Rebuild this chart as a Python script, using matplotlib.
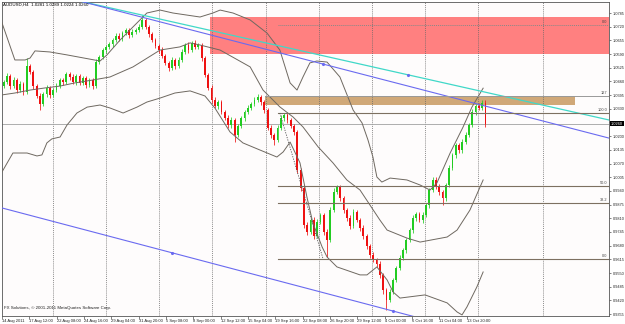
import numpy as np
import matplotlib.pyplot as plt
from matplotlib.patches import Rectangle
import matplotlib.transforms as mtransforms

plt.rcParams['font.family'] = ['Liberation Sans', 'DejaVu Sans']

# AUDUSD H4 (two bars per candle), closes
closes = [
    1.0457, 1.0486, 1.0438, 1.0467, 1.0419, 1.0448, 1.0410, 1.0533, 1.0505, 1.0438,
    1.0391, 1.0353, 1.0400, 1.0429, 1.0396, 1.0419, 1.0438, 1.0467, 1.0457, 1.0495,
    1.0481, 1.0457, 1.0486, 1.0453, 1.0476, 1.0443, 1.0467, 1.0438, 1.0552, 1.0576,
    1.0609, 1.0624, 1.0638, 1.0657, 1.0676, 1.0662, 1.0690, 1.0704, 1.0681, 1.0695,
    1.0704, 1.0719, 1.0752, 1.0719, 1.0685, 1.0657, 1.0628, 1.0609, 1.0581, 1.0548,
    1.0524, 1.0562, 1.0533, 1.0562, 1.0600, 1.0633, 1.0609, 1.0643, 1.0624, 1.0633,
    1.0571, 1.0491, 1.0429, 1.0372, 1.0343, 1.0362, 1.0315, 1.0286, 1.0253, 1.0277,
    1.0206, 1.0248, 1.0286, 1.0315, 1.0334, 1.0353, 1.0372, 1.0386, 1.0362, 1.0324,
    1.0239, 1.0206, 1.0182, 1.0239, 1.0286, 1.0301, 1.0277, 1.0248, 1.0220, 1.0039,
    0.9954, 0.9778, 0.9745, 0.9802, 0.9726, 0.9792, 0.9826, 0.9745, 0.9707, 0.9849,
    0.9935, 0.9958, 0.9906, 0.9849, 0.9811, 0.9773, 0.9840, 0.9802, 0.9764, 0.9726,
    0.9678, 0.9636, 0.9612, 0.9593, 0.9541, 0.9469, 0.9422, 0.9460, 0.9517, 0.9574,
    0.9621, 0.9659, 0.9707, 0.9754, 0.9811, 0.9830, 0.9802, 0.9826, 0.9873, 0.9944,
    0.9992, 0.9963, 0.9935, 0.9906, 0.9968, 1.0049, 1.0110, 1.0158, 1.0134, 1.0172,
    1.0206, 1.0253, 1.0315, 1.0343, 1.0334, 1.0358, 1.0260,
]
first_open = 1.0440
up_pips = [
    10, 14, 8, 12, 10, 15, 9, 38, 12, 10, 8, 14, 10, 12, 9, 11, 13, 10, 8, 12,
    9, 14, 10, 8, 12, 10, 9, 11, 14, 10, 12, 9, 11, 10, 13, 15, 10, 12, 9, 14,
    11, 12, 24, 10, 9, 12, 8, 10, 13, 9, 11, 14, 10, 12, 15, 9, 12, 10, 14, 11,
    9, 10, 8, 12, 14, 10, 9, 11, 13, 15, 10, 12, 9, 11, 14, 10, 12, 13, 9, 10,
    11, 14, 9, 12, 16, 10, 11, 9, 12, 10, 11, 13, 14, 10, 12, 15, 11, 9, 12, 14,
    18, 10, 12, 9, 11, 14, 12, 10, 9, 13, 11, 10, 12, 9, 14, 10, 12, 15, 11, 10,
    13, 12, 9, 11, 14, 12, 10, 16, 11, 9, 14, 12, 10, 11, 9, 13, 12, 10, 11, 14,
    12, 10, 13, 9, 16, 14, 12,
]
dn_pips = [
    12, 9, 14, 10, 12, 9, 13, 10, 11, 14, 12, 28, 10, 12, 14, 9, 11, 10, 13, 9,
    12, 10, 14, 11, 9, 13, 10, 12, 9, 11, 10, 12, 9, 13, 10, 11, 12, 9, 14, 10,
    11, 9, 10, 12, 13, 9, 11, 14, 10, 12, 15, 10, 12, 9, 11, 10, 13, 9, 12, 10,
    14, 12, 10, 13, 11, 15, 12, 10, 14, 12, 33, 11, 10, 12, 9, 11, 10, 12, 14, 13,
    12, 15, 24, 10, 11, 12, 14, 10, 13, 12, 14, 12, 16, 11, 15, 12, 10, 14, 80, 12,
    10, 11, 14, 12, 13, 15, 11, 12, 14, 13, 12, 14, 11, 13, 15, 18, 47, 12, 11, 10,
    12, 11, 13, 10, 12, 14, 11, 13, 10, 12, 11, 14, 13, 33, 12, 10, 11, 13, 12, 14,
    10, 12, 11, 13, 12, 10, 15,
]

# indicator lines (bar index, price)
upper_x = [-0.5, 1.3, 3.4, 6.5, 8.0, 9.5, 14.0, 19.2, 29.2, 31.3, 35.3, 39.2, 43.4, 47.4,
           51.3, 59.5, 63.4, 65.6, 69.5, 74.7, 79.8, 83.7, 86.8, 88.9, 90.7, 92.8, 94.9,
           98.0, 101.9, 105.9, 108.6, 110.4, 111.9, 113.1, 114.6, 117.1, 122.2, 126.2,
           129.2, 131.3, 135.3, 139.2, 141.9, 145.3]
upper_y = [1.0738, 1.0657, 1.0562, 1.0562, 1.0571, 1.0605, 1.0600, 1.0586, 1.0557, 1.0586,
           1.0657, 1.0719, 1.0785, 1.0799, 1.0785, 1.0766, 1.0785, 1.0799, 1.0785, 1.0752,
           1.0690, 1.0609, 1.0453, 1.0419, 1.0481, 1.0548, 1.0557, 1.0552, 1.0481, 1.0324,
           1.0263, 1.0182, 1.0101, 1.0006, 0.9982, 1.0001, 0.9992, 0.9968, 0.9944, 0.9978,
           1.0120, 1.0243, 1.0338, 1.0428]
mid_x = [-0.5, 3.4, 8.0, 12.5, 17.1, 21.6, 27.1, 32.2, 39.2, 47.4, 53.4, 56.5, 59.5, 65.6,
         74.7, 78.6, 83.7, 87.7, 90.7, 95.3, 99.8, 104.0, 108.0, 111.0, 114.0, 116.2,
         122.2, 126.2, 134.4, 137.4, 141.3, 145.3]
mid_y = [1.0396, 1.0405, 1.0419, 1.0429, 1.0438, 1.0453, 1.0467, 1.0481, 1.0529, 1.0609,
         1.0624, 1.0643, 1.0633, 1.0609, 1.0529, 1.0419, 1.0339, 1.0291, 1.0244, 1.0149,
         1.0073, 0.9992, 0.9944, 0.9873, 0.9802, 0.9754, 0.9716, 0.9697, 0.9721, 0.9754,
         0.9849, 0.9992]
lower_x = [-0.5, 2.8, 7.1, 10.1, 11.6, 13.1, 14.6, 17.1, 19.2, 22.2, 25.3, 29.2, 32.2, 36.2,
           40.4, 43.4, 47.4, 51.9, 56.5, 61.0, 64.0, 68.6, 72.5, 77.7, 82.8, 84.7, 86.8,
           89.8, 91.9, 93.7, 96.5, 98.0, 101.0, 108.0, 110.1, 113.1, 116.2, 118.0, 120.1,
           127.7, 134.4, 137.4, 138.9, 140.4, 143.4, 145.3]
lower_y = [1.0030, 1.0120, 1.0120, 1.0106, 1.0111, 1.0168, 1.0187, 1.0196, 1.0253, 1.0310,
           1.0338, 1.0348, 1.0334, 1.0310, 1.0338, 1.0362, 1.0381, 1.0405, 1.0415, 1.0391,
           1.0334, 1.0220, 1.0168, 1.0134, 1.0101, 1.0125, 1.0172, 1.0073, 0.9911, 0.9788,
           0.9674, 0.9626, 0.9579, 0.9541, 0.9541, 0.9579, 0.9517, 0.9460, 0.9431, 0.9446,
           0.9408, 0.9365, 0.9351, 0.9389, 0.9484, 0.9555]

# drawn objects
cyan_line = ([23.0, 183.4], [1.0842, 1.0277])
blue_line = ([23.0, 183.4], [1.0842, 1.0191])
channel_line = ([-0.5, 183.4], [0.9859, 0.9099])
red_zone = (62.5, 1.0590, 1.0766)
tan_zone = (79.2, 173.1, 1.0348, 1.0391)
fib_levels = [1.0310, 0.9963, 0.9883, 0.9617]
fib_labels = ['100.0', '50.0', '38.2', '0.0']
fib_start = 83.1
fib_diag = ([83.7, 96.8], [1.0310, 0.9617])
level_127 = 1.0391
level_top = 1.0728

y_ticks = [1.0785 - 0.0065 * k for k in range(23)]
time_labels = ['14 Aug 2011', '17 Aug 12:00', '22 Aug 08:00', '24 Aug 16:00', '29 Aug 04:00',
               '31 Aug 20:00', '5 Sep 08:00', '8 Sep 00:00', '12 Sep 12:00', '15 Sep 04:00',
               '19 Sep 16:00', '22 Sep 08:00', '26 Sep 20:00', '29 Sep 12:00', '4 Oct 00:00',
               '6 Oct 16:00', '11 Oct 04:00', '13 Oct 20:00']
last_price = 1.0260

closes = np.array(closes)
opens = np.concatenate([[first_open], closes[:-1]])
highs = np.maximum(opens, closes) + np.array(up_pips) * 0.0001
lows = np.minimum(opens, closes) - np.array(dn_pips) * 0.0001
x = np.arange(len(closes))

fig = plt.figure(figsize=(6.25, 3.24), dpi=100)
ax = fig.add_axes([2 / 625, 8 / 324, 607 / 625, 314 / 324])
ax.set_facecolor('#fefcfc')
ax.set_xlim(-0.5, 183.44)
ax.set_ylim(0.93458, 1.08373)

# zones
ax.add_patch(Rectangle((red_zone[0], red_zone[1]), 200, red_zone[2] - red_zone[1],
                       color='#ff8080', lw=0, zorder=1))
ax.add_patch(Rectangle((tan_zone[0], tan_zone[2]), tan_zone[1] - tan_zone[0],
                       tan_zone[3] - tan_zone[2], color='#d0a878', lw=0, zorder=1))

# vertical grid
for gx in [15.0, 31.0, 47.1, 63.1, 79.5, 95.6, 111.6, 127.7, 143.7, 163.4]:
    ax.axvline(gx, color='#666666', lw=0.5, ls=(0, (1.5, 1.5)), zorder=2)

# candles
bull = closes >= opens
colors = np.where(bull, '#22cc22', '#ee1111')
ax.vlines(x, lows, highs, colors=colors, lw=0.55, zorder=3)
body = np.where(np.abs(closes - opens) < 0.0003, 0.0003, closes - opens)
ax.bar(x, body, bottom=opens, width=0.55, color=colors, lw=0, zorder=3)

# bands
for bx, by in [(upper_x, upper_y), (mid_x, mid_y), (lower_x, lower_y)]:
    ax.plot(bx, by, color='#6e6860', lw=0.7, zorder=4)

# trend lines
ax.plot(*cyan_line, color='#40d8c8', lw=0.9, zorder=4)
ax.plot(*blue_line, color='#6a6af0', lw=0.8, zorder=4)
ax.plot(*channel_line, color='#6a6af0', lw=0.8, zorder=4)
for line, mx in [(cyan_line, 122.5), (blue_line, 96.8), (channel_line, 51.0), (channel_line, 118.0)]:
    ax.plot(mx, np.interp(mx, line[0], line[1]), marker='.', ms=2.5, color='#6a6af0', zorder=5)

# fibonacci
for lev, lab in zip(fib_levels, fib_labels):
    ax.plot([fib_start, 183.44], [lev, lev], color='#7d7060', lw=0.8, zorder=4)
    ax.text(183.0, lev + 0.0004, lab, ha='right', va='bottom', fontsize=2.8, color='#444444')
ax.plot(*fib_diag, color='#555555', lw=0.6, ls=(0, (1.5, 1.5)), zorder=4)
ax.plot([79.2, 183.44], [level_127, level_127], color='#999999', lw=0.7, zorder=4)
ax.text(183.0, level_127 + 0.0004, '127', ha='right', va='bottom', fontsize=2.8, color='#444444')
ax.plot([83.1, 183.44], [level_top, level_top], color='#888888', lw=0.7, ls=(0, (1, 1)), zorder=4)
ax.text(183.0, level_top + 0.0004, '0.0', ha='right', va='bottom', fontsize=2.8, color='#444444')

# bid line
ax.axhline(last_price, color='#a0a0a0', lw=0.6, zorder=2)

# axes
for s in ax.spines.values():
    s.set_color('#555555')
    s.set_linewidth(0.6)
ax.yaxis.tick_right()
ax.set_yticks(y_ticks)
# the tick under the bid price box is hidden by it
ax.set_yticklabels(['' if abs(v - last_price) < 0.001 else '%.4f' % v for v in y_ticks])
ax.tick_params(axis='y', labelsize=2.8, length=1.5, width=0.4, pad=1, colors='#222222')
tick_pos = [-0.5 + 8.28 * k for k in range(len(time_labels))]
ax.set_xticks(tick_pos)
ax.set_xticklabels(time_labels)
ax.tick_params(axis='x', labelsize=3.0, length=2, width=0.4, pad=0.5, colors='#222222')
for lbl in ax.get_xticklabels():
    lbl.set_ha('left')

trans = mtransforms.blended_transform_factory(ax.transAxes, ax.transData)
ax.text(1.003, last_price, '%.4f' % last_price, transform=trans, ha='left', va='center',
        fontsize=2.8, color='white', bbox=dict(facecolor='black', edgecolor='none', pad=0.5))

fig.text(3 / 625, 1 - 5 / 324, 'AUDUSD,H4  1.0281 1.0289 1.0224 1.0260', fontsize=3.2,
         va='center', ha='left', color='black')
ax.text(0.003, 0.025, 'FX Solutions, \u00a9 2001-2011 MetaQuotes Software Corp.', transform=ax.transAxes,
        fontsize=3.2, va='center', ha='left', color='#222222')

fig.savefig('out.png', dpi=100)
